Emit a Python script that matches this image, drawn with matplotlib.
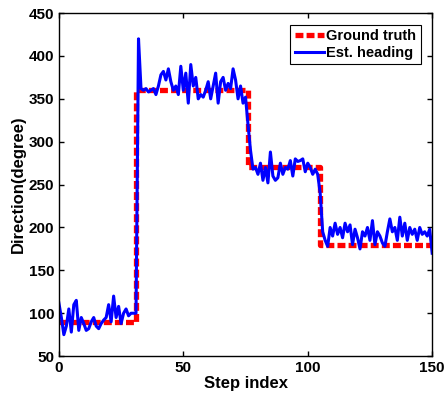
import numpy as np
import matplotlib.pyplot as plt

plt.rcParams["font.family"] = ["Liberation Sans", "DejaVu Sans"]
plt.rcParams["font.weight"] = "bold"

# ground truth heading: piecewise constant (step index, degree)
GT_STEPS = [0, 31, 31, 76, 76, 105, 105, 150]
GT_DEG = [90, 90, 360, 360, 270, 270, 180, 180]

# estimated heading per step, 0..150
EST_DEG = [
    112, 95, 75, 85, 105, 78, 110, 115, 80, 95,
    88, 80, 82, 90, 95, 85, 82, 88, 92, 95,
    110, 90, 120, 95, 108, 88, 100, 105, 97, 100,
    100, 100, 420, 362, 360, 362, 358, 360, 362, 355,
    365, 378, 382, 372, 385, 370, 360, 365, 355, 388,
    360, 380, 345, 390, 365, 375, 350, 355, 352, 360,
    370, 350, 365, 380, 345, 370, 375, 360, 368, 362,
    385, 372, 350, 365, 345, 352, 320, 290, 268, 270,
    262, 275, 255, 270, 252, 288, 260, 255, 258, 275,
    262, 270, 268, 278, 260, 280, 277, 278, 280, 265,
    275, 270, 262, 268, 262, 240, 195, 185, 178, 200,
    190, 205, 192, 200, 188, 205, 195, 203, 180, 198,
    188, 175, 195, 190, 200, 185, 208, 180, 195, 190,
    182, 178, 195, 210, 195, 200, 185, 212, 190, 205,
    185, 200, 192, 198, 185, 200, 192, 195, 190, 198,
    170,
]
STEPS = np.arange(len(EST_DEG))

fig = plt.figure(figsize=(4.46, 3.97), dpi=100)
ax = fig.add_axes([0.132, 0.103, 0.837, 0.864])

ax.plot(GT_STEPS, GT_DEG, color="red", linewidth=3.8,
        linestyle=(0, (1.5, 0.6)), label="Ground truth")
ax.plot(STEPS, EST_DEG, color="blue", linewidth=2.2, label="Est. heading")

ax.set_xlim(0, 150)
ax.set_ylim(50, 450)
ax.set_xticks([0, 50, 100, 150])
ax.set_yticks(range(50, 451, 50))
ax.tick_params(direction="in", top=True, right=True, labelsize=11, width=1)
for lbl in ax.get_xticklabels() + ax.get_yticklabels():
    lbl.set_fontweight("bold")
for s in ax.spines.values():
    s.set_linewidth(1)

ax.set_xlabel("Step index", fontsize=12, fontweight="bold", labelpad=1)
ax.set_ylabel("Direction(degree)", fontsize=12, fontweight="bold", labelpad=2)

leg = ax.legend(loc="upper right", fontsize=10.5, frameon=True, fancybox=False,
                edgecolor="black", framealpha=1, borderpad=0.3,
                handlelength=2.0, handletextpad=0.15, labelspacing=0.2,
                borderaxespad=0.8)
leg.get_frame().set_linewidth(0.8)
for t in leg.get_texts():
    t.set_fontweight("bold")

fig.savefig("out.png", dpi=100)
